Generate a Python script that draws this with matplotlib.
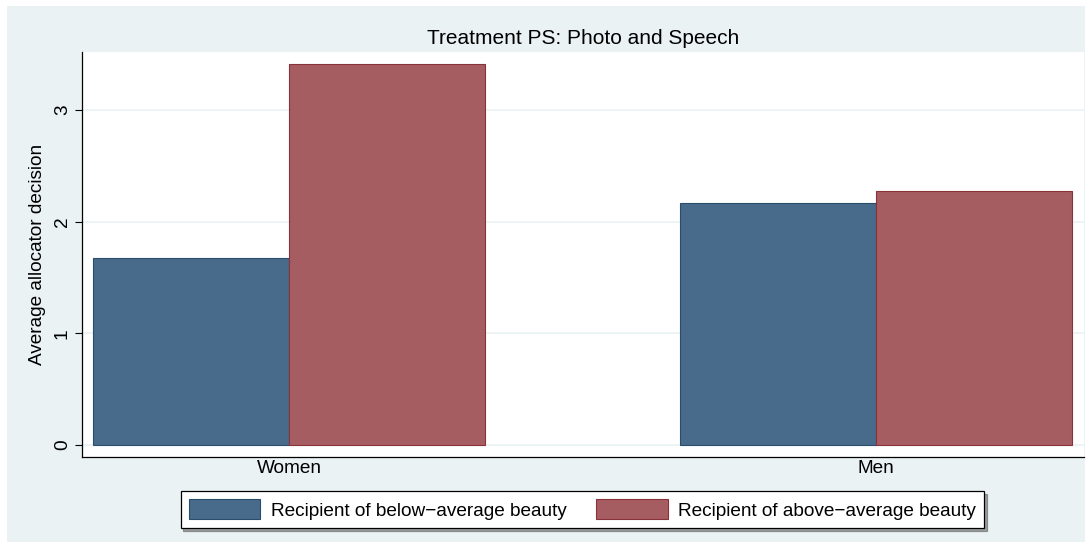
import matplotlib.pyplot as plt
import matplotlib.patches as mpatches
import numpy as np

plt.rcParams['font.family'] = ['Liberation Sans', 'DejaVu Sans']

groups = ['Women', 'Men']
below_avg = [1.67, 2.17]
above_avg = [3.41, 2.27]
series_labels = ['Recipient of below\u2212average beauty', 'Recipient of above\u2212average beauty']
yticks = [0, 1, 2, 3]

BG = '#EAF2F3'
BLUE = '#486B8B'
BLUE_EDGE = '#2A4D6C'
RED = '#A65D62'
RED_EDGE = '#8A3239'
FS = 13.7

fig = plt.figure(figsize=(10.92, 5.48), dpi=100, facecolor='white')
fig.patches.append(mpatches.Rectangle((7 / 1092, 6 / 548), 1078 / 1092, 536 / 548,
                                      transform=fig.transFigure, facecolor=BG,
                                      edgecolor='none', zorder=-10))

ax = fig.add_axes([82 / 1092, 1 - 457 / 548, 1002 / 1092, 405 / 548])
ax.set_facecolor('white')

x = np.arange(len(groups))
w = 0.334
ax.bar(x - w / 2, below_avg, width=w, color=BLUE, edgecolor=BLUE_EDGE, linewidth=0.8,
       label=series_labels[0], zorder=3)
ax.bar(x + w / 2, above_avg, width=w, color=RED, edgecolor=RED_EDGE, linewidth=0.8,
       label=series_labels[1], zorder=3)

ax.set_xlim(-0.3526, 1.354)
ax.set_ylim(-0.107, 3.518)
ax.set_yticks(yticks)
ax.set_yticklabels([str(t) for t in yticks], rotation=90, va='center', fontsize=FS)
ax.yaxis.grid(True, color=BG, linewidth=1.2, zorder=0)
ax.set_xticks(x)
ax.set_xticklabels(groups, fontsize=FS)
ax.tick_params(axis='x', length=0, pad=2)
ax.tick_params(axis='y', length=5, width=0.8, pad=3)

for side in ['top', 'right']:
    ax.spines[side].set_visible(False)
ax.spines['left'].set_linewidth(0.9)
ax.spines['bottom'].set_linewidth(0.9)

ax.set_ylabel('Average allocator decision', fontsize=FS, labelpad=6)
ax.set_title('Treatment PS: Photo and Speech', fontsize=15, pad=5.5)

leg = fig.legend(loc='center', bbox_to_anchor=(582.5 / 1092, 1 - 509.5 / 548), ncol=2,
                 fontsize=FS, frameon=True, fancybox=False, shadow=True,
                 handlelength=3.75, handleheight=1.2, columnspacing=1.55,
                 handletextpad=0.55, borderpad=0.45, borderaxespad=0)
leg.get_frame().set_edgecolor('black')
leg.get_frame().set_linewidth(0.9)

fig.savefig('out.png', dpi=100, facecolor=fig.get_facecolor())
